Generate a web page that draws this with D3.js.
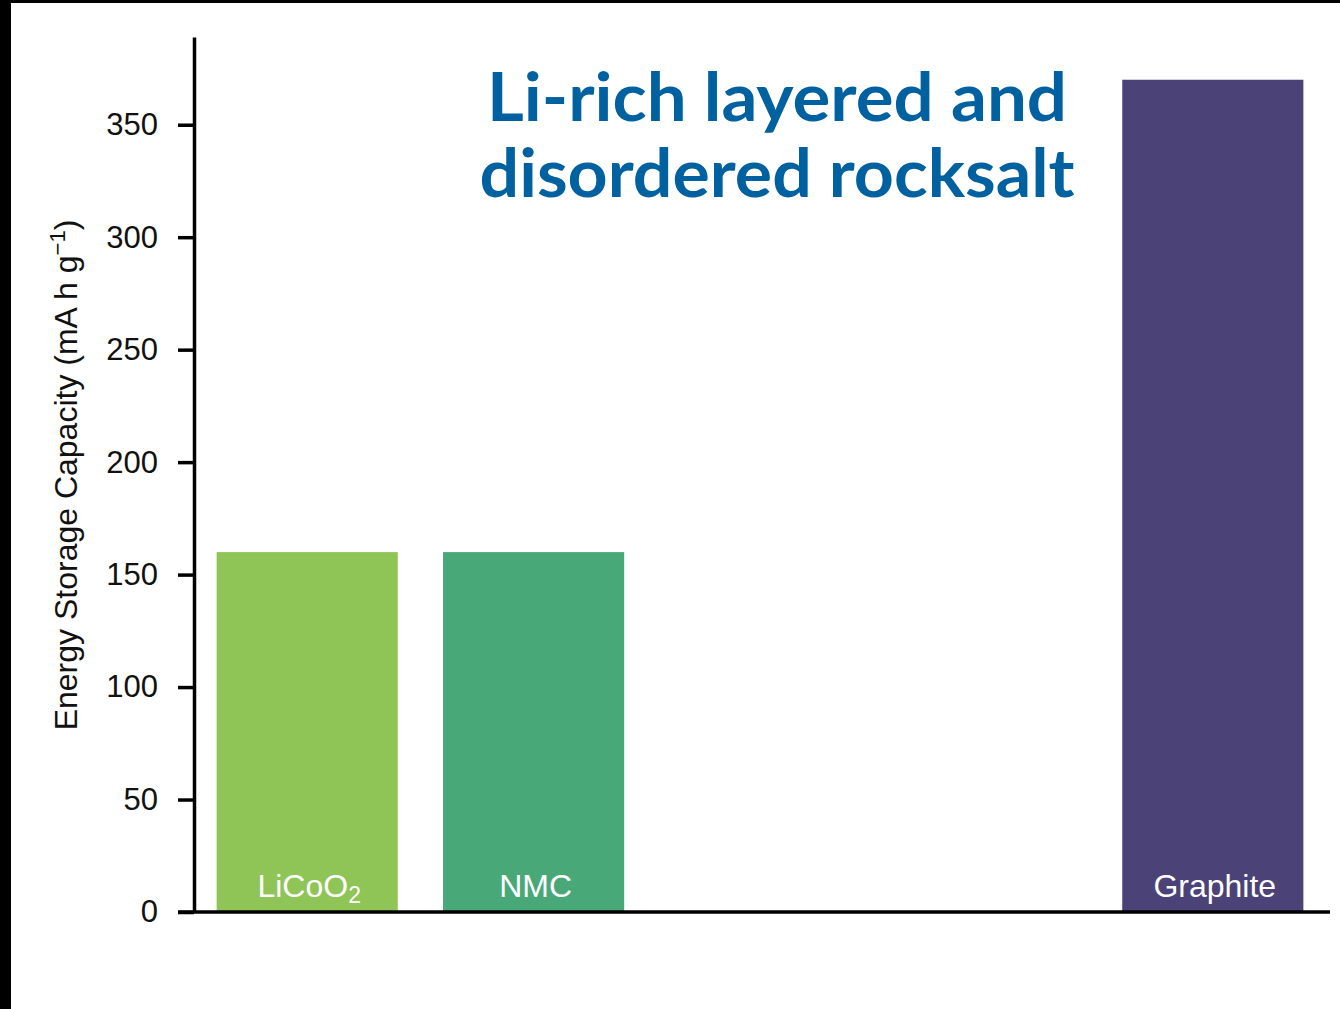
<!DOCTYPE html>
<html>
<head>
<meta charset="utf-8">
<script src="https://cdn.jsdelivr.net/npm/d3@7"></script>
<style>
  html, body { margin: 0; padding: 0; background: #fff; }
  svg { display: block; }
</style>
</head>
<body>
<svg id="chart" width="1340" height="1009"></svg>
<script>
// Cathode / anode materials; two slots are kept empty for the Li-rich materials
const categories = ["LiCoO2", "NMC", "Li-rich layered", "Disordered rocksalt", "Graphite"];
const capacities = [160, 160, null, null, 370];
const barColors = ["#8EC556", "#48A878", null, null, "#4B4277"];
const barLabels = [["LiCoO", "2"], ["NMC", ""], null, null, ["Graphite", ""]];
const yTicks = [0, 50, 100, 150, 200, 250, 300, 350];
const yTitle = ["Energy Storage Capacity (mA h g", "\u22121", ")"];
const titleLines = ["Li-rich layered and", "disordered rocksalt"];

const svg = d3.select("#chart");

// frame edges
svg.append("rect").attr("x", 0).attr("y", 0).attr("width", 11).attr("height", 1009).attr("fill", "#000");
svg.append("rect").attr("x", 0).attr("y", 0).attr("width", 1340).attr("height", 3).attr("fill", "#000");

const x = d3.scaleBand()
  .domain(categories)
  .range([194, 1326])
  .paddingInner(0.2)
  .paddingOuter(0.1);

const y = d3.scaleLinear()
  .domain([0, 389])
  .range([912, 37]);

const data = categories.map((c, i) => ({ cat: c, value: capacities[i], color: barColors[i], label: barLabels[i] }))
  .filter(d => d.value != null);

// bars
svg.append("g").selectAll("rect")
  .data(data)
  .join("rect")
  .attr("x", d => x(d.cat))
  .attr("width", x.bandwidth())
  .attr("y", d => y(d.value))
  .attr("height", d => y(0) - y(d.value))
  .attr("fill", d => d.color);

// labels inside bars
const lab = svg.append("g").selectAll("text")
  .data(data)
  .join("text")
  .attr("x", d => x(d.cat) + x.bandwidth() / 2 + 2)
  .attr("y", y(0) - 15)
  .attr("text-anchor", "middle")
  .attr("fill", "#fff")
  .attr("font-family", "'Liberation Sans', Arial, sans-serif")
  .attr("font-size", 32);
lab.append("tspan").text(d => d.label[0]);
lab.append("tspan")
  .attr("font-size", 23)
  .attr("dy", 6)
  .text(d => d.label[1]);

// y axis
const yAxis = d3.axisLeft(y)
  .tickValues(yTicks)
  .tickSize(16)
  .tickSizeOuter(0)
  .tickPadding(20);

const gy = svg.append("g")
  .attr("transform", "translate(194,0)")
  .call(yAxis);
gy.select(".domain").attr("stroke", "#000").attr("stroke-width", 3.5);
gy.selectAll(".tick line").attr("stroke", "#000").attr("stroke-width", 3.5);
gy.selectAll(".tick text")
  .attr("font-family", "'Liberation Sans', Arial, sans-serif")
  .attr("font-size", 31)
  .attr("fill", "#111");

// baseline
svg.append("line")
  .attr("x1", x.range()[0] - 16)
  .attr("x2", x.range()[1] + 4)
  .attr("y1", y(0))
  .attr("y2", y(0))
  .attr("stroke", "#000")
  .attr("stroke-width", 3.5);

// y axis title
const yt = svg.append("text")
  .attr("transform", "translate(77,475) rotate(-90)")
  .attr("text-anchor", "middle")
  .attr("font-family", "'Liberation Sans', Arial, sans-serif")
  .attr("font-size", 32)
  .attr("fill", "#111");
yt.append("tspan").text(yTitle[0]);
yt.append("tspan").attr("font-size", 22).attr("dy", -12).text(yTitle[1]);
yt.append("tspan").attr("dy", 12).text(yTitle[2]);

// overlay title
const titleWidths = [580, 595];
svg.append("g").selectAll("text")
  .data(titleLines)
  .join("text")
  .attr("x", 777)
  .attr("y", (d, i) => 121 + i * 76)
  .attr("text-anchor", "middle")
  .attr("font-family", "Lato, 'Open Sans', sans-serif")
  .attr("font-weight", "bold")
  .attr("font-size", 66)
  .attr("fill", "#0061A0")
  .attr("textLength", (d, i) => titleWidths[i])
  .attr("lengthAdjust", "spacingAndGlyphs")
  .text(d => d);
</script>
</body>
</html>
